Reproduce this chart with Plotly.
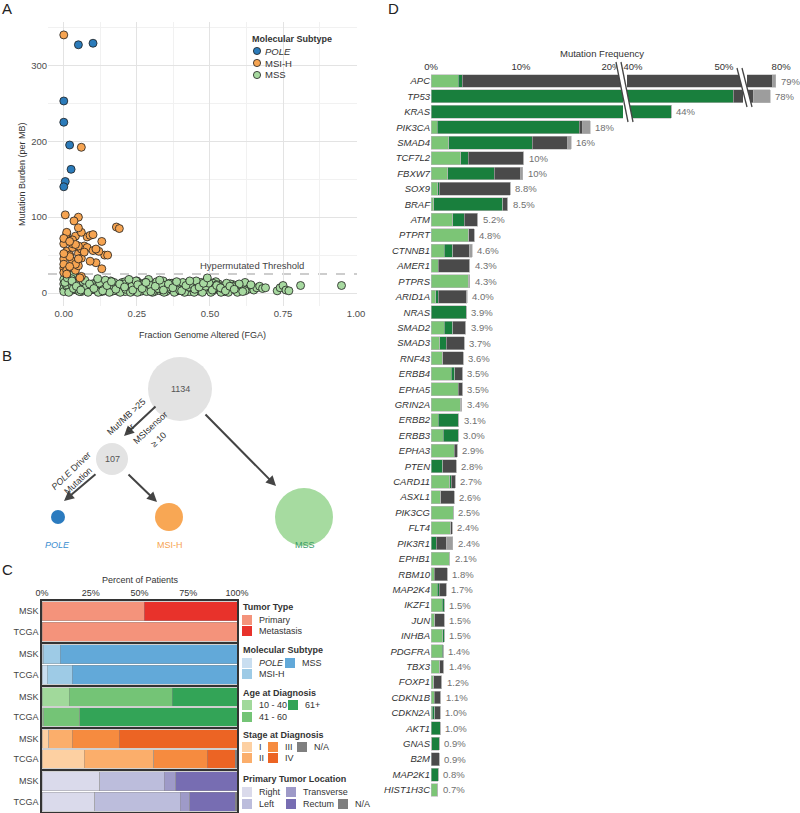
import plotly.graph_objects as go

W, H = 800, 813
FONT = "Liberation Sans, Arial, sans-serif"


def px(x):
    return x / W


def py(y):
    return 1 - y / H


# ---------------- Panel A data ----------------
pole_fga = [0.05, 0.10, 0.00, 0.00, 0.02, 0.025, 0.005, 0.00]
pole_tmb = [327, 329, 253, 225, 195, 163, 147, 140]

msi_fga = [0.00, 0.00, 0.01, 0.00, 0.02, 0.01, 0.00, 0.03, 0.02, 0.01,
           0.04, 0.05, 0.03, 0.06, 0.04, 0.05, 0.07, 0.06, 0.08, 0.09,
           0.10, 0.08, 0.10, 0.11, 0.13, 0.14, 0.15, 0.13, 0.12, 0.00,
           0.01, 0.02, 0.00, 0.03, 0.04, 0.05, 0.06, 0.07, 0.05, 0.02,
           0.01, 0.03, 0.09, 0.11, 0.04, 0.00, 0.06, 0.02,
           0.00, 0.06, 0.005, 0.05, 0.035, 0.05, 0.18, 0.19, 0.055]
msi_tmb = [33, 45, 55, 65, 70, 78, 38, 60, 50, 80,
           75, 52, 42, 58, 30, 36, 62, 46, 74, 76,
           77, 60, 56, 40, 68, 50, 50, 32, 55, 27,
           30, 48, 72, 65, 38, 62, 80, 54, 45, 35,
           25, 70, 42, 58, 64, 52, 22, 68,
           340, 192, 103, 100, 95, 86, 87, 85, 20]

mss_fga = [0.00, 0.00, 0.01, 0.00, 0.01, 0.02, 0.00, 0.01, 0.03, 0.02,
           0.00, 0.01, 0.04, 0.03, 0.05, 0.02, 0.01, 0.04, 0.05, 0.03,
           0.06, 0.07, 0.06, 0.08, 0.09, 0.07, 0.10, 0.08, 0.09, 0.10,
           0.11, 0.12, 0.11, 0.13, 0.14, 0.12, 0.15, 0.16, 0.14, 0.17,
           0.18, 0.16, 0.19, 0.20, 0.18, 0.13, 0.15, 0.17, 0.19, 0.11,
           0.12, 0.14, 0.16, 0.18, 0.20, 0.13, 0.15, 0.17, 0.19, 0.20,
           0.21, 0.22, 0.23, 0.21, 0.24, 0.25, 0.22, 0.26, 0.27, 0.23,
           0.28, 0.29, 0.24, 0.30, 0.26, 0.25, 0.27, 0.28, 0.29, 0.30,
           0.21, 0.23, 0.25, 0.27, 0.29, 0.22, 0.24, 0.26, 0.28, 0.30,
           0.31, 0.32, 0.33, 0.31, 0.34, 0.35, 0.32, 0.36, 0.37, 0.33,
           0.38, 0.39, 0.34, 0.40, 0.36, 0.35, 0.37, 0.38, 0.39, 0.40,
           0.31, 0.33, 0.35, 0.37, 0.39, 0.32, 0.34, 0.36, 0.38, 0.40,
           0.41, 0.42, 0.43, 0.41, 0.44, 0.45, 0.42, 0.46, 0.47, 0.43,
           0.48, 0.49, 0.44, 0.50, 0.46, 0.45, 0.47, 0.48, 0.49, 0.50,
           0.41, 0.43, 0.45, 0.47, 0.49, 0.42, 0.44, 0.46,
           0.51, 0.52, 0.53, 0.51, 0.54, 0.55, 0.52, 0.56, 0.57, 0.53,
           0.58, 0.59, 0.54, 0.60, 0.56, 0.55, 0.57, 0.58, 0.51, 0.53,
           0.55, 0.52,
           0.61, 0.62, 0.63, 0.64, 0.65, 0.66, 0.67, 0.68, 0.62, 0.64,
           0.69, 0.60,
           0.73, 0.74, 0.75, 0.76, 0.77, 0.81, 0.95,
           0.004, 0.017, 0.026, 0.033, 0.047, 0.054, 0.066, 0.078, 0.083, 0.097,
           0.104, 0.118, 0.123, 0.137, 0.142, 0.156, 0.168, 0.172, 0.187, 0.193,
           0.207, 0.212, 0.228, 0.233, 0.247, 0.252, 0.268, 0.274, 0.283, 0.297,
           0.303, 0.318, 0.322, 0.337, 0.343, 0.357, 0.362, 0.378, 0.384, 0.396,
           0.407, 0.413, 0.428, 0.432, 0.446, 0.453, 0.468, 0.474, 0.486, 0.497,
           0.503, 0.517, 0.524, 0.538, 0.542, 0.557, 0.563, 0.576, 0.588, 0.594,
           0.012, 0.028, 0.043, 0.058, 0.072, 0.088, 0.103, 0.116, 0.133, 0.148,
           0.163, 0.178, 0.191, 0.208, 0.223, 0.236, 0.253, 0.268, 0.281, 0.298,
           0.313, 0.328, 0.341, 0.358, 0.373, 0.386, 0.403, 0.418, 0.431, 0.448,
           0.463, 0.478, 0.491, 0.508, 0.523, 0.536, 0.553, 0.568, 0.583, 0.612]
mss_tmb = [5, 12, 8, 18, 3, 10, 6, 15, 24, 4,
           2, 9, 13, 4, 7, 17, 11, 5, 3, 9,
           6, 11, 2, 8, 4, 13, 7, 3, 10, 5,
           4, 9, 14, 6, 3, 11, 7, 5, 12, 8,
           3, 16, 6, 4, 10, 2, 13, 9, 5, 7,
           3, 8, 2, 6, 11, 12, 4, 3, 9, 14,
           6, 3, 11, 15, 8, 4, 9, 13, 5, 2,
           10, 7, 3, 12, 6, 16, 8, 4, 18, 9,
           2, 7, 11, 3, 5, 13, 6, 2, 14, 4,
           8, 4, 12, 2, 6, 10, 14, 5, 9, 3,
           7, 11, 16, 4, 8, 2, 13, 6, 3, 10,
           5, 9, 7, 12, 4, 11, 3, 6, 9, 7,
           6, 10, 3, 13, 8, 5, 2, 11, 7, 9,
           4, 18, 12, 6, 3, 9, 14, 7, 5, 11,
           8, 2, 13, 4, 10, 12, 6, 3,
           9, 5, 12, 3, 7, 10, 15, 4, 8, 6,
           11, 3, 5, 9, 7, 2, 12, 6, 13, 8,
           4, 10,
           8, 14, 5, 10, 4, 7, 9, 6, 3, 11,
           7, 12,
           3, 7, 10, 4, 3, 10, 10,
           14, 1, 19, 6, 11, 2, 15, 9, 1, 12,
           8, 1, 13, 5, 17, 1, 10, 14, 7, 1,
           12, 5, 1, 9, 16, 1, 7, 12, 2, 10,
           1, 15, 6, 11, 1, 8, 13, 1, 10, 4,
           14, 1, 8, 12, 1, 16, 5, 1, 9, 13,
           1, 7, 11, 1, 6, 13, 1, 9, 4, 1,
           20, 16, 9, 4, 17, 12, 6, 19, 3, 10,
           15, 5, 12, 8, 18, 4, 11, 6, 14, 2,
           9, 17, 4, 12, 7, 15, 3, 10, 16, 5,
           8, 13, 20, 4, 10, 7, 3, 9, 5, 2]

hyper_threshold = 25
a_xticks = [0, 0.25, 0.5, 0.75, 1.0]
a_yticks = [0, 100, 200, 300]

C_POLE = "#2b7bba"
C_MSI = "#f6a451"
C_MSS = "#a7d9a0"

# ---------------- Panel B data ----------------
n_total = 1134
n_hyper = 107

# ---------------- Panel C data ----------------
cohorts = ["MSK", "TCGA"]
c_groups = [
    ("Tumor Type", ["Primary", "Metastasis"],
     [52.5, 47.5], [100.0, 0.0],
     ["#f4937b", "#e8322b"]),
    ("Molecular Subtype", ["POLE", "MSI-H", "MSS"],
     [0.7, 8.7, 90.6], [2.6, 12.8, 84.6],
     ["#c9def0", "#9ecbe6", "#62a9d9"]),
    ("Age at Diagnosis", ["10 - 40", "41 - 60", "61+"],
     [14.0, 52.9, 33.1], [1.0, 18.3, 80.7],
     ["#a1d99b", "#74c476", "#33a457"]),
    ("Stage at Diagnosis", ["I", "II", "III", "IV", "N/A"],
     [3.4, 12.0, 24.3, 60.3, 0.0], [21.7, 35.7, 27.4, 14.3, 0.9],
     ["#fdd0a2", "#fbae6b", "#f68b3f", "#ec6424", "#7f7f7f"]),
    ("Primary Tumor Location", ["Right", "Left", "Transverse", "Rectum", "N/A"],
     [29.6, 33.1, 6.0, 31.3, 0.0], [27.0, 43.9, 4.8, 23.4, 0.9],
     ["#dadaeb", "#bcbddc", "#9e9ac8", "#776db2", "#7f7f7f"]),
]
c_ticks = [0, 25, 50, 75, 100]
c_ticktext = ["0%", "25%", "50%", "75%", "100%"]

# ---------------- Panel D data ----------------
genes = ["APC", "TP53", "KRAS", "PIK3CA", "SMAD4", "TCF7L2", "FBXW7", "SOX9", "BRAF",
         "ATM", "PTPRT", "CTNNB1", "AMER1", "PTPRS", "ARID1A", "NRAS", "SMAD2", "SMAD3",
         "RNF43", "ERBB4", "EPHA5", "GRIN2A", "ERBB2", "ERBB3", "EPHA3", "PTEN", "CARD11",
         "ASXL1", "PIK3CG", "FLT4", "PIK3R1", "EPHB1", "RBM10", "MAP2K4", "IKZF1", "JUN",
         "INHBA", "PDGFRA", "TBX3", "FOXP1", "CDKN1B", "CDKN2A", "AKT1", "GNAS", "B2M",
         "MAP2K1", "HIST1H3C"]
d_light = [3.0, 0, 0, 0.67, 1.96, 3.33, 1.85, 0.74, 0.3,
           2.4, 4.2, 1.48, 0.78, 4.2, 0.55, 0, 1.48, 0.96,
           1.3, 2.26, 3.0, 3.3, 0.78, 1.37, 2.6, 0, 2.07,
           1.07, 2.5, 2.2, 0, 2.1, 0.37, 0.67, 1.26, 0.4,
           1.33, 1.26, 0.96, 0.3, 0.37, 0.15, 0, 0.1, 0,
           0, 0.74]
d_dark = [0.45, 51.0, 44.2, 15.8, 9.3, 0.8, 5.2, 0.16, 7.66,
          1.3, 0, 0.96, 0, 0, 0.23, 3.93, 0.92, 0.74,
          0, 0.37, 0, 0, 2.32, 1.63, 0, 1.3, 0.19,
          0, 0, 0, 0.6, 0, 0, 0.26, 0.22, 0,
          0.12, 0.11, 0, 0, 0, 0.25, 1.04, 0.83, 0,
          0.78, 0]
d_gray = [75.6, 25.9, 0, 0.4, 3.95, 6.2, 2.9, 7.9, 0.55,
          1.5, 0.6, 1.82, 3.52, 0, 3.15, 0, 1.45, 1.97,
          2.3, 0.87, 0.5, 0.1, 0, 0, 0.3, 1.5, 0.44,
          1.53, 0, 0.17, 1.07, 0, 1.43, 0.77, 0, 1.08,
          0, 0, 0.44, 0.88, 0.73, 0.64, 0, 0, 0.93,
          0.05, 0]
d_lgray = [0.35, 1.9, 0, 0.8, 0.35, 0, 0.25, 0, 0,
           0, 0, 0.34, 0, 0.1, 0.07, 0, 0, 0,
           0, 0, 0, 0, 0, 0, 0, 0, 0,
           0, 0, 0, 0.73, 0, 0, 0, 0, 0,
           0, 0, 0, 0, 0, 0, 0, 0, 0,
           0, 0]
d_labels = ["79%", "78%", "44%", "18%", "16%", "10%", "10%", "8.8%", "8.5%",
            "5.2%", "4.8%", "4.6%", "4.3%", "4.3%", "4.0%", "3.9%", "3.9%", "3.7%",
            "3.6%", "3.5%", "3.5%", "3.4%", "3.1%", "3.0%", "2.9%", "2.8%", "2.7%",
            "2.6%", "2.5%", "2.4%", "2.4%", "2.1%", "1.8%", "1.7%", "1.5%", "1.5%",
            "1.5%", "1.4%", "1.4%", "1.2%", "1.1%", "1.0%", "1.0%", "0.9%", "0.9%",
            "0.8%", "0.7%"]
d_colors = ["#7cc576", "#197f3d", "#4a4a4a", "#9d9d9d"]
# broken axis segments: (axis, range, pixel domain, tick values, tick texts)
d_segments = [
    ("x7", [0, 21.33], (431, 623), [0, 10, 20], ["0%", "10%", "20%"]),
    ("x8", [39.34, 52.09], (627, 743), [40, 50], ["40%", "50%"]),
    ("x9", [76.2, 80.1], (747, 782), [80], ["80%"]),
]

fig = go.Figure()
shapes = []
annotations = []


def ann(text, x, y, size=9, color="#333", xanchor="center", yanchor="middle", angle=0, **kw):
    annotations.append(dict(text=text, x=px(x), y=py(y), xref="paper", yref="paper",
                            showarrow=False, xanchor=xanchor, yanchor=yanchor, textangle=angle,
                            font=dict(size=size, color=color, family=FONT), **kw))


def rect(x0, y0, x1, y1, color):
    shapes.append(dict(type="rect", xref="paper", yref="paper", x0=px(x0), x1=px(x1),
                       y0=py(y1), y1=py(y0), fillcolor=color, line=dict(width=0), layer="above"))


def circle(cx, cy, r, color, line_color=None, lw=0):
    shapes.append(dict(type="circle", xref="paper", yref="paper", x0=px(cx - r), x1=px(cx + r),
                       y0=py(cy + r), y1=py(cy - r), fillcolor=color,
                       line=dict(width=lw, color=line_color or color), layer="above"))


# ---------------- Panel A ----------------
for fx, ty, col in [(mss_fga, mss_tmb, C_MSS), (msi_fga, msi_tmb, C_MSI), (pole_fga, pole_tmb, C_POLE)]:
    fig.add_trace(go.Scatter(x=fx, y=ty, mode="markers", showlegend=False, hoverinfo="skip",
                             marker=dict(size=8, color=col, line=dict(color="#1e1e1e", width=0.8)),
                             xaxis="x", yaxis="y"))

shapes.append(dict(type="line", xref="x domain", yref="y", x0=0, x1=1, y0=hyper_threshold,
                   y1=hyper_threshold, line=dict(color="#bdbdbd", width=1.5, dash="dash"), layer="below"))
annotations.append(dict(text="Hypermutated Threshold", xref="x", yref="y", x=0.645, y=hyper_threshold,
                        yshift=9, showarrow=False, font=dict(size=9.5, color="#444", family=FONT)))
ann("Fraction Genome Altered (FGA)", 202, 335)
ann("Mutation Burden (per MB)", 22, 174, angle=-90)
# legend of panel A
ann("<b>Molecular Subtype</b>", 250, 39, xanchor="left")
for lab, col, yy in [("<i>POLE</i>", C_POLE, 51), ("MSI-H", C_MSI, 63), ("MSS", C_MSS, 75)]:
    circle(257, yy, 3.6, col, "#1e1e1e", 0.8)
    ann(lab, 263, yy, size=9.5, xanchor="left")

# ---------------- Panel B ----------------
circle(180, 389, 32, "#e3e3e3")
circle(112, 459, 16, "#e3e3e3")
circle(58, 517, 7, "#2b7bbf")
circle(169, 517, 14, "#f8a754")
circle(304, 517, 29, "#a6dba0")
ann(str(n_total), 180, 389, color="#555")
ann(str(n_hyper), 112, 459, color="#555")
for (hx, hy, tx, ty) in [(124, 436, 157, 405), (276, 486, 204, 413), (64, 501, 97, 473), (157, 502, 127, 473)]:
    annotations.append(dict(text="", x=px(hx), y=py(hy), xref="paper", yref="paper", showarrow=True,
                            ax=tx - hx, ay=ty - hy, axref="pixel", ayref="pixel", arrowhead=2,
                            arrowsize=1, arrowwidth=2, arrowcolor="#444"))
ann("Mut/MB >25", 126, 417, angle=-43, color="#333")
ann("or", 130, 428, angle=-43, color="#333")
ann("MSIsensor", 150, 428, angle=-43, color="#333")
ann("≥ 10", 158, 440, angle=-43, color="#333")
ann("<i>POLE</i> Driver", 71, 471, angle=-44, color="#333")
ann("Mutation", 78, 481, angle=-44, color="#333")
ann("<i>POLE</i>", 58, 545, color="#3a8ed0")
ann("MSI-H", 170, 545, color="#f6a451")
ann("MSS", 305, 545, color="#3b9b66")

# ---------------- Panel C ----------------
c_bounds = [(601, 642), (644, 685), (687, 727), (729, 769), (771, 812)]
layout_axes = {}
for gi, (title, cats, msk, tcga, cols) in enumerate(c_groups):
    k = gi + 2
    for cat, vm, vt, col in zip(cats, msk, tcga, cols):
        fig.add_trace(go.Bar(orientation="h", y=cohorts, x=[vm, vt], width=0.93,
                             marker=dict(color=col, line=dict(color="#8a8a8a", width=0.4)),
                             showlegend=False, hoverinfo="skip", xaxis=f"x{k}", yaxis=f"y{k}"))
    top, bot = c_bounds[gi]
    layout_axes[f"xaxis{k}"] = dict(domain=[px(42), px(237)], range=[0, 100], anchor=f"y{k}",
                                    showline=True, mirror=True, linecolor="#333", linewidth=1.5,
                                    showgrid=False, zeroline=False, ticks="", automargin=False,
                                    showticklabels=(gi == 0), side="top",
                                    tickvals=c_ticks, ticktext=c_ticktext,
                                    tickfont=dict(size=9, color="#333"))
    layout_axes[f"yaxis{k}"] = dict(domain=[py(bot), py(top)], anchor=f"x{k}", type="category",
                                    categoryorder="array", categoryarray=cohorts[::-1],
                                    showline=True, mirror=True, linecolor="#333", linewidth=1.5,
                                    showgrid=False, zeroline=False, ticks="", automargin=False,
                                    tickfont=dict(size=9, color="#444"))
ann("Percent of Patients", 140, 580, size=9)

# legends of panel C
c_leg = [
    # (swatch x, swatch top y, label)
    [(242, 615, "Primary"), (242, 626, "Metastasis")],
    [(242, 658, "<i>POLE</i>"), (242, 669, "MSI-H"), (285, 658, "MSS")],
    [(242, 700, "10 - 40"), (242, 712, "41 - 60"), (288, 700, "61+")],
    [(242, 742, "I"), (242, 753, "II"), (268, 742, "III"), (268, 753, "IV"), (297, 742, "N/A")],
    [(242, 787, "Right"), (242, 799, "Left"), (286, 787, "Transverse"), (286, 799, "Rectum"), (338, 799, "N/A")],
]
c_titles_y = [607, 650, 693, 735, 779]
for gi, (title, cats, msk, tcga, cols) in enumerate(c_groups):
    ann(f"<b>{title}</b>", 241, c_titles_y[gi], xanchor="left")
    for (sx, sy, lab), col in zip(c_leg[gi], cols):
        rect(sx, sy, sx + 10, sy + 10, col)
        ann(lab, sx + 15, sy + 5, xanchor="left")

# ---------------- Panel D ----------------
for vals, col in zip([d_light, d_dark, d_gray, d_lgray], d_colors):
    for ax_name, _, _, _, _ in d_segments:
        fig.add_trace(go.Bar(orientation="h", y=genes, x=vals, width=0.84,
                             marker=dict(color=col, line=dict(color="#b5b5b5", width=0.6)),
                             showlegend=False, hoverinfo="skip", xaxis=ax_name, yaxis="y7"))

for ax_name, rng, (d0, d1), tv, tt in d_segments:
    layout_axes["xaxis" + ax_name[1:]] = dict(domain=[px(d0), px(d1)], range=rng, anchor="y7",
                                             side="top", tickvals=tv, ticktext=tt, showgrid=False,
                                             zeroline=False, showline=False, ticks="", automargin=False,
                                             tickfont=dict(size=9.5, color="#333"))
layout_axes["yaxis7"] = dict(domain=[py(797.7), py(73.3)], anchor="x7", type="category",
                             categoryorder="array", categoryarray=genes, autorange="reversed",
                             showgrid=False, zeroline=False, showline=False, ticks="", automargin=False,
                             tickfont=dict(size=9.5, color="#333", style="italic"))

for g, a, b, c, d, lab in zip(genes, d_light, d_dark, d_gray, d_lgray, d_labels):
    total = a + b + c + d
    axn = "x7"
    for ax_name, rng, _, _, _ in d_segments:
        if rng[0] <= total <= rng[1]:
            axn = ax_name
    annotations.append(dict(text=lab, x=total, y=g, xref=axn, yref="y7", xanchor="left", xshift=3,
                            showarrow=False, font=dict(size=9.5, color="#707070", family=FONT)))
ann("Mutation Frequency", 602, 54, size=9.5)

# axis break marks
for (x0, y0, x1, y1) in [(616, 62, 628, 122), (737, 68, 747, 107)]:
    gap = 5
    path = (f"M {px(x0)},{py(y0)} L {px(x0 + gap)},{py(y0)} L {px(x1 + gap)},{py(y1)} "
            f"L {px(x1)},{py(y1)} Z")
    shapes.append(dict(type="path", xref="paper", yref="paper", path=path, fillcolor="white",
                       line=dict(width=0), layer="above"))
    for off in (0, gap):
        shapes.append(dict(type="line", xref="paper", yref="paper", x0=px(x0 + off), y0=py(y0),
                           x1=px(x1 + off), y1=py(y1), line=dict(color="#444", width=1.3),
                           layer="above"))

# panel letters
ann("A", 7, 9, size=15, color="#222")
ann("B", 7, 355, size=15, color="#222")
ann("C", 7, 569, size=15, color="#222")
ann("D", 393, 9, size=15, color="#222")

fig.update_layout(
    template="none",
    width=W, height=H, autosize=False,
    margin=dict(l=0, r=0, t=0, b=0, pad=0),
    paper_bgcolor="white", plot_bgcolor="white",
    showlegend=False, barmode="stack",
    font=dict(family=FONT, size=9, color="#333"),
    xaxis=dict(domain=[px(48), px(357)], range=[-0.054, 1.003], anchor="y", automargin=False,
               tickvals=a_xticks, ticktext=[f"{v:.2f}" for v in a_xticks],
               showgrid=True, gridcolor="#e3e3e3", gridwidth=1,
               minor=dict(dtick=0.125, tick0=0, showgrid=True, gridcolor="#f1f1f1", ticks=""),
               zeroline=False, showline=False, ticks="",
               tickfont=dict(size=9.5, color="#4d4d4d")),
    yaxis=dict(domain=[py(306), py(22)], range=[-17, 357], anchor="x", automargin=False,
               tickvals=a_yticks, showgrid=True, gridcolor="#e3e3e3", gridwidth=1,
               minor=dict(dtick=50, tick0=0, showgrid=True, gridcolor="#f1f1f1", ticks=""),
               zeroline=False, showline=False, ticks="",
               tickfont=dict(size=9.5, color="#4d4d4d")),
    shapes=shapes, annotations=annotations,
    **layout_axes,
)

fig.write_html("out.html", config={"displayModeBar": False},
               post_script="document.body.style.margin='0';document.body.style.overflow='hidden';")
